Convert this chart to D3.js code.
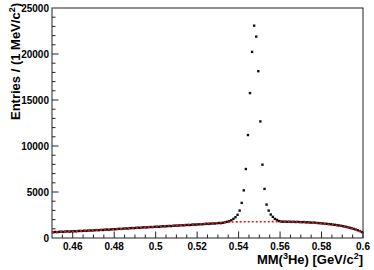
<!DOCTYPE html>
<meta charset="UTF-8">
<style>
    body { margin: 0; background: #fff; }
    .tick-label { font-family: "Liberation Sans", Arial, sans-serif; font-weight: bold; font-size: 10px; fill: #000; }
    .title { font-family: "Liberation Sans", Arial, sans-serif; font-weight: bold; font-size: 13px; fill: #000; }
    .fit { fill: none; stroke: #e8151a; stroke-width: 1.6px; stroke-dasharray: 2,2; }
</style>
<body>
<div id="chart"></div>
<script src="https://d3js.org/d3.v7.min.js"></script>
<script>

// bin edges: 1 MeV bins from 0.45 to 0.60 GeV
var binLow = 0.45;
var binWidth = 0.001;

// entries per bin (150 bins)
var counts = [
    620, 655, 640, 670, 690, 665, 700, 715, 690, 725,
    740, 720, 755, 770, 760, 790, 775, 805, 820, 810,
    840, 860, 845, 880, 870, 905, 920, 900, 935, 955,
    950, 975, 1000, 985, 1020, 1045, 1030, 1065, 1080, 1070,
    1100, 1120, 1105, 1140, 1160, 1150, 1175, 1195, 1185, 1220,
    1230, 1215, 1250, 1270, 1260, 1290, 1310, 1295, 1330, 1345,
    1340, 1370, 1385, 1375, 1410, 1420, 1405, 1440, 1460, 1450,
    1480, 1500, 1490, 1520, 1545, 1530, 1560, 1585, 1575, 1610,
    1630, 1620, 1660, 1710, 1760, 1820, 1930, 2080, 2260, 2520,
    2980, 3820, 5180, 7500, 11190, 15750, 20230, 23080, 21890, 18130,
    12670, 7970, 5340, 3630, 2980, 2550, 2300, 2080, 1970, 1840,
    1790, 1770, 1780, 1760, 1775, 1750, 1765, 1740, 1755, 1730,
    1720, 1735, 1700, 1710, 1680, 1665, 1675, 1640, 1620, 1605,
    1580, 1560, 1540, 1510, 1490, 1455, 1430, 1395, 1360, 1320,
    1280, 1230, 1180, 1120, 1060, 990, 920, 840, 750, 640
];

// background fit (red dashed), sampled every 5 MeV
var fitMass = [0.450, 0.455, 0.460, 0.465, 0.470, 0.475, 0.480, 0.485, 0.490, 0.495,
    0.500, 0.505, 0.510, 0.515, 0.520, 0.525, 0.530, 0.535, 0.540, 0.545,
    0.550, 0.555, 0.560, 0.565, 0.570, 0.575, 0.580, 0.585, 0.590, 0.595, 0.600];
var fitVal = [640, 690, 735, 785, 840, 895, 955, 1020, 1090, 1160,
    1230, 1300, 1370, 1440, 1515, 1590, 1655, 1720, 1755, 1765,
    1770, 1775, 1780, 1760, 1720, 1660, 1570, 1440, 1250, 990, 620];

var xTicks = [0.46, 0.48, 0.5, 0.52, 0.54, 0.56, 0.58, 0.6];
var yTicks = [0, 5000, 10000, 15000, 20000, 25000];

var margin = {top: 8, right: 11, bottom: 32, left: 52},
    width = 374 - margin.left - margin.right,
    height = 270 - margin.top - margin.bottom;

var x = d3.scaleLinear().domain([0.45, 0.6]).range([0, width]);
var y = d3.scaleLinear().domain([0, 25000]).range([height, 0]);

var svg = d3.select("#chart").append("svg")
    .attr("width", 374)
    .attr("height", 270)
    .append("g")
    .attr("transform", "translate(" + margin.left + "," + margin.top + ")");

var data = counts.map(function(c, i) {
    return {m: binLow + (i + 0.5) * binWidth, n: c};
});

// frame
svg.append("rect")
    .attr("x", 0).attr("y", 0)
    .attr("width", width).attr("height", height)
    .attr("fill", "none")
    .attr("stroke", "#222")
    .attr("stroke-width", 1);

// x axis ticks (inside, pointing up)
var xMinor = d3.range(0.455, 0.6001, 0.005);
svg.append("g").selectAll("line")
    .data(xMinor)
    .enter().append("line")
    .attr("x1", function(d) { return x(d); })
    .attr("x2", function(d) { return x(d); })
    .attr("y1", height)
    .attr("y2", function(d) {
        var major = xTicks.some(function(t) { return Math.abs(t - d) < 1e-6; });
        return height - (major ? 6.5 : 3.5);
    })
    .attr("stroke", "#222");

svg.append("g").selectAll("text")
    .data(xTicks)
    .enter().append("text")
    .attr("class", "tick-label")
    .attr("x", function(d) { return x(d); })
    .attr("y", height + 11.5)
    .attr("text-anchor", "middle")
    .text(function(d) { return d3.format("")(d); });

// y axis ticks (inside, pointing right)
var yMinor = d3.range(1000, 25000, 1000);
svg.append("g").selectAll("line")
    .data(yMinor)
    .enter().append("line")
    .attr("x1", 0)
    .attr("x2", function(d) { return d % 5000 === 0 ? 6.5 : 3.5; })
    .attr("y1", function(d) { return y(d); })
    .attr("y2", function(d) { return y(d); })
    .attr("stroke", "#222");

svg.append("g").selectAll("text")
    .data(yTicks)
    .enter().append("text")
    .attr("class", "tick-label")
    .attr("x", -3)
    .attr("y", function(d) { return y(d) + 3.6; })
    .attr("text-anchor", "end")
    .text(function(d) { return d; });

// data points
svg.append("g").selectAll("rect")
    .data(data)
    .enter().append("rect")
    .attr("x", function(d) { return x(d.m) - 1.2; })
    .attr("y", function(d) { return y(d.n) - 1.2; })
    .attr("width", 2.4)
    .attr("height", 2.4)
    .attr("fill", "#111");

// background fit
var fitLine = d3.line()
    .x(function(d, i) { return x(fitMass[i]); })
    .y(function(d) { return y(d); })
    .curve(d3.curveMonotoneX);

svg.append("path")
    .datum(fitVal)
    .attr("class", "fit")
    .attr("d", fitLine);

// axis titles
var xt = svg.append("text")
    .attr("class", "title")
    .attr("x", width)
    .attr("y", height + 26)
    .attr("text-anchor", "end");
xt.append("tspan").text("MM(");
xt.append("tspan").attr("font-size", "9px").attr("dy", -5).text("3");
xt.append("tspan").attr("dy", 5).text("He) [GeV/c");
xt.append("tspan").attr("font-size", "9px").attr("dy", -5).text("2");
xt.append("tspan").attr("dy", 5).text("]");

var yt = svg.append("text")
    .attr("class", "title")
    .attr("transform", "translate(" + (20 - margin.left) + "," + (3 - margin.top) + ") rotate(-90)")
    .attr("text-anchor", "end");
yt.append("tspan").text("Entries / (1 MeV/c");
yt.append("tspan").attr("font-size", "9px").attr("dy", -5).text("2");
yt.append("tspan").attr("dy", 5).text(")");

</script>
</body>
